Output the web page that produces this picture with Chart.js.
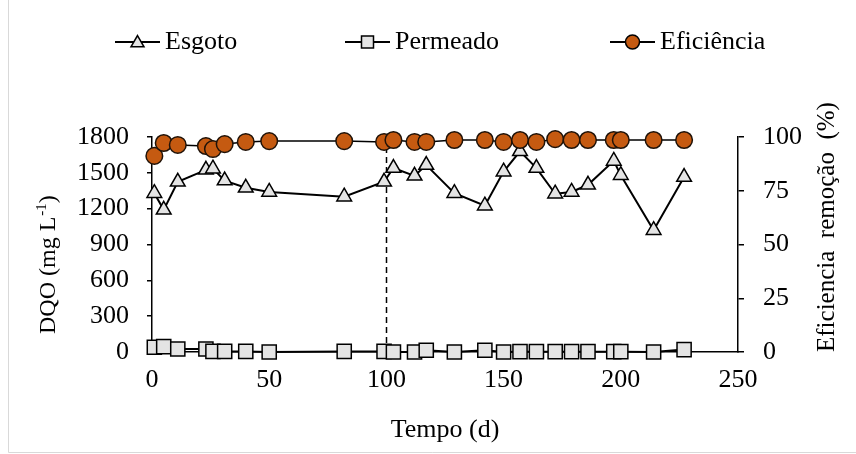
<!DOCTYPE html>
<html>
<head>
<meta charset="utf-8">
<script src="https://cdn.jsdelivr.net/npm/chart.js@4.4.0/dist/chart.umd.min.js"></script>
<style>
    html, body { margin: 0; padding: 0; background: #fff; }
    #wrap { width: 856px; height: 454px; position: relative; }
</style>
</head>
<body>
<div id="wrap"><canvas id="dqoChart" width="856" height="454"></canvas></div>
<script>
// dias de operação (eixo x)
const dias = [1, 5, 11, 23, 26, 31, 40, 50, 82, 99, 103, 112, 117, 129, 142, 150, 157, 164, 172, 179, 186, 197, 200, 214, 227];

// DQO (mg/L)
const esgoto = [1330, 1190, 1425, 1525, 1535, 1435, 1375, 1340, 1300, 1425, 1540, 1475, 1565, 1330, 1225, 1510, 1680, 1540, 1325, 1340, 1400, 1600, 1480, 1020, 1465];
const permeado = [40, 45, 25, 25, 5, 5, 5, 0, 5, 5, 0, 0, 15, 0, 15, 0, 3, 3, 3, 3, 3, 3, 3, 0, 20];

// eficiência de remoção (%)
const eficiencia = [91.2, 97.2, 96.3, 95.8, 94.4, 96.7, 97.7, 98.1, 98.1, 97.7, 98.6, 97.7, 97.7, 98.6, 98.6, 97.7, 98.6, 97.7, 99.0, 98.6, 98.6, 98.6, 98.6, 98.6, 98.6];

const nomesSeries = ['Esgoto', 'Permeado', 'Eficiência'];
const tituloX = 'Tempo (d)';
const tituloY = 'DQO (mg L';
const tituloY1 = 'Eficiencia  remoção  (%)';
const DIA_MARCA = 100;

const FONTE = "'Liberation Serif', 'Times New Roman', serif";
const COR_EFIC = '#C55A11';
const COR_CINZA = '#E4E4E4';

Chart.defaults.font.family = FONTE;
Chart.defaults.font.size = 26;
Chart.defaults.color = '#000';

function pontos(valores) {
    return dias.map((d, i) => ({ x: d, y: valores[i] }));
}

function marcador(ctx, tipo, x, y, r) {
    ctx.beginPath();
    if (tipo === 'triangle') {
        for (let k = 0; k < 3; k++) {
            const a = k * 2 * Math.PI / 3;
            const px = x + Math.sin(a) * r;
            const py = y - Math.cos(a) * r;
            if (k === 0) ctx.moveTo(px, py); else ctx.lineTo(px, py);
        }
        ctx.closePath();
        ctx.fillStyle = COR_CINZA;
    } else if (tipo === 'rect') {
        ctx.rect(x - r, y - r, 2 * r, 2 * r);
        ctx.fillStyle = COR_CINZA;
    } else {
        ctx.arc(x, y, r, 0, Math.PI * 2);
        ctx.fillStyle = COR_EFIC;
    }
    ctx.fill();
    ctx.lineWidth = 1.5;
    ctx.strokeStyle = '#000';
    ctx.stroke();
}

const extras = {
    id: 'extras',
    beforeDatasetsDraw(chart) {
        const { ctx, chartArea, scales } = chart;
        const x = Math.round(scales.x.getPixelForValue(DIA_MARCA)) + 0.5;
        ctx.save();
        ctx.setLineDash([6, 4]);
        ctx.lineWidth = 1.5;
        ctx.strokeStyle = '#000';
        ctx.beginPath();
        ctx.moveTo(x, chartArea.top);
        ctx.lineTo(x, chartArea.bottom);
        ctx.stroke();
        ctx.restore();
    },
    afterDraw(chart) {
        const { ctx, chartArea } = chart;
        ctx.save();

        // moldura
        ctx.strokeStyle = '#d9d9d9';
        ctx.lineWidth = 1;
        ctx.beginPath();
        ctx.moveTo(8.5, 0);
        ctx.lineTo(8.5, 452.5);
        ctx.lineTo(856, 452.5);
        ctx.stroke();

        ctx.fillStyle = '#000';
        ctx.textBaseline = 'middle';

        // título eixo x
        ctx.font = `26px ${FONTE}`;
        ctx.textAlign = 'center';
        ctx.fillText(tituloX, (chartArea.left + chartArea.right) / 2, 430);

        // título eixo y esquerdo (com sobrescrito)
        ctx.save();
        ctx.translate(49, 334);
        ctx.rotate(-Math.PI / 2);
        ctx.textAlign = 'left';
        ctx.font = `24px ${FONTE}`;
        ctx.fillText(tituloY, 0, 0);
        let w = ctx.measureText(tituloY).width;
        ctx.font = `15px ${FONTE}`;
        ctx.fillText('-1', w + 1, -7);
        w += ctx.measureText('-1').width + 1;
        ctx.font = `24px ${FONTE}`;
        ctx.fillText(')', w, 0);
        ctx.restore();

        // título eixo y direito
        ctx.save();
        ctx.translate(827, 352);
        ctx.rotate(-Math.PI / 2);
        ctx.textAlign = 'left';
        ctx.font = `25px ${FONTE}`;
        ctx.fillText(tituloY1, 0, 0);
        ctx.restore();

        // legenda
        const itens = [
            { x1: 115, x2: 160, tipo: 'triangle', r: 7.5 },
            { x1: 345, x2: 390, tipo: 'rect', r: 6 },
            { x1: 610, x2: 655, tipo: 'circle', r: 7 },
        ];
        const yLeg = 42;
        ctx.font = `26px ${FONTE}`;
        ctx.textAlign = 'left';
        itens.forEach((it, i) => {
            ctx.strokeStyle = '#000';
            ctx.lineWidth = 2;
            ctx.beginPath();
            ctx.moveTo(it.x1, yLeg);
            ctx.lineTo(it.x2, yLeg);
            ctx.stroke();
            marcador(ctx, it.tipo, (it.x1 + it.x2) / 2, yLeg + (it.tipo === 'triangle' ? 1 : 0), it.r);
            ctx.fillStyle = '#000';
            ctx.fillText(nomesSeries[i], it.x2 + 5, yLeg);
        });

        ctx.restore();
    }
};

const semSeparador = (v) => String(v);

const ctx = document.getElementById('dqoChart').getContext('2d');
new Chart(ctx, {
    type: 'line',
    data: {
        datasets: [
            {
                label: nomesSeries[2],
                data: pontos(eficiencia),
                yAxisID: 'y1',
                borderColor: '#000',
                borderWidth: 1.5,
                pointStyle: 'circle',
                pointRadius: 8.3,
                pointBackgroundColor: COR_EFIC,
                pointBorderColor: '#1f1208',
                pointBorderWidth: 1.5,
                order: 1,
            },
            {
                label: nomesSeries[0],
                data: pontos(esgoto),
                yAxisID: 'y',
                borderColor: '#000',
                borderWidth: 2,
                pointStyle: 'triangle',
                pointRadius: 8.5,
                pointBackgroundColor: COR_CINZA,
                pointBorderColor: '#000',
                pointBorderWidth: 1.5,
                order: 2,
            },
            {
                label: nomesSeries[1],
                data: pontos(permeado),
                yAxisID: 'y',
                borderColor: '#000',
                borderWidth: 2,
                pointStyle: 'rect',
                pointRadius: 10,
                pointBackgroundColor: COR_CINZA,
                pointBorderColor: '#000',
                pointBorderWidth: 1.5,
                order: 3,
            },
        ],
    },
    options: {
        responsive: false,
        animation: false,
        clip: false,
        layout: {
            padding: { top: 137, left: 0, right: 0, bottom: 0 },
        },
        plugins: {
            legend: { display: false },
            tooltip: { enabled: false },
        },
        elements: {
            line: { tension: 0, fill: false },
        },
        scales: {
            x: {
                type: 'linear',
                position: 'bottom',
                min: 0,
                max: 250,
                ticks: { stepSize: 50, padding: 13, maxRotation: 0, callback: semSeparador },
                grid: { drawOnChartArea: false, drawTicks: false },
                border: { color: '#000', width: 1.5 },
                afterFit: (s) => { s.height = 102; },
            },
            y: {
                position: 'left',
                min: 0,
                max: 1800,
                ticks: { stepSize: 300, padding: 18, callback: semSeparador },
                grid: { drawOnChartArea: false, tickLength: 5, color: '#000', lineWidth: 1.5 },
                border: { color: '#000', width: 1.5 },
                afterFit: (s) => { s.width = 152; },
            },
            y1: {
                position: 'right',
                min: 0,
                max: 100,
                ticks: { stepSize: 25, padding: 19, callback: semSeparador },
                grid: { drawOnChartArea: false, tickLength: 6, color: '#000', lineWidth: 1.5 },
                border: { color: '#000', width: 1.5 },
                afterFit: (s) => { s.width = 118; },
            },
        },
    },
    plugins: [extras],
});
</script>
</body>
</html>
